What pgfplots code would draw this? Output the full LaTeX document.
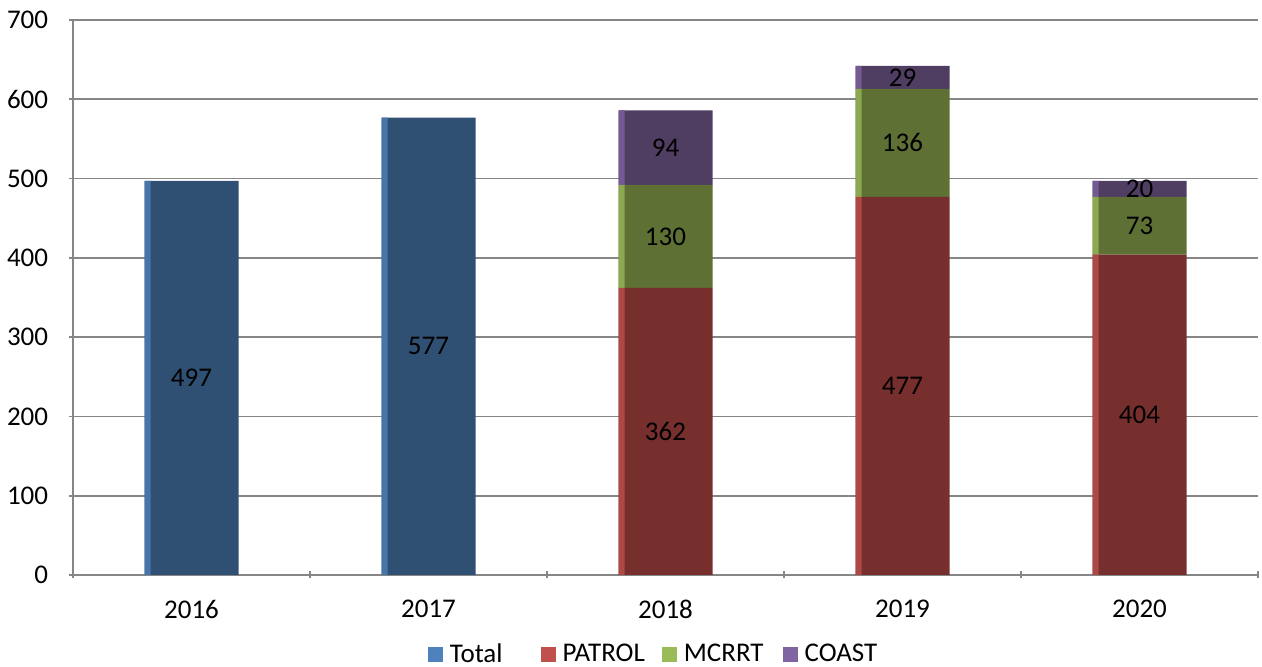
\documentclass[border=0pt]{standalone}
\usepackage{fontspec}
\setmainfont{Carlito}
\usepackage{pgfplots}
\pgfplotsset{compat=1.18}
\definecolor{cTotal}{HTML}{2F5072}
\definecolor{cPatrol}{HTML}{772F2E}
\definecolor{cMcrrt}{HTML}{5E7034}
\definecolor{cCoast}{HTML}{4F3D62}
\definecolor{lTotal}{HTML}{4F81BD}
\definecolor{lPatrol}{HTML}{C0504D}
\definecolor{lMcrrt}{HTML}{9BBB59}
\definecolor{lCoast}{HTML}{8064A2}
\definecolor{axgray}{HTML}{868686}
\pgfplotsset{
  basegeom/.style={
    at={(0,0)}, anchor=south west,
    scale only axis, width=592.5pt, height=277.5pt,
    ybar stacked,
    ymin=0, ymax=700,
    xmin=-0.5, xmax=4.5,
  }
}
\pgfplotstableread{
x total
0 497
1 577
}\tabTotal
\pgfplotstableread{
x patrol mcrrt coast
2 362 130 94
3 477 136 29
4 404 73 20
}\tabUnits
\newcommand\lfont{\fontsize{13.5}{15}\selectfont}
\begin{document}
\lfont
\begin{tikzpicture}
\path[use as bounding box] (-36.5pt,-46pt) rectangle (594.5pt,287.5pt);
\begin{axis}[
  basegeom, bar width=47pt,
  ytick distance=100,
  xtick={0,1,2,3,4}, xticklabels={2016,2017,2018,2019,2020},
  minor xtick={-0.5,0.5,1.5,2.5,3.5,4.5},
  major x tick style={draw=none},
  tick align=outside,
  major tick length=3.5pt, minor tick length=3.5pt,
  tick style={axgray, line width=0.8pt},
  axis x line=bottom, axis y line=left,
  axis line style={-, axgray, line width=0.8pt},
  ymajorgrids, grid style={axgray, line width=0.8pt},
  /pgf/number format/assume math mode=true,
  ticklabel style={font=\lfont, text=black},
  yticklabel style={xshift=-6pt},
  xticklabel style={yshift=-6pt},
  nodes near coords,
  every node near coord/.append style={anchor=center, text=black, font=\lfont},
  legend columns=4,
  legend style={at={(0.294,-0.144)}, anchor=west, draw=none,
     font=\lfont, cells={anchor=west},
     /tikz/every odd column/.append style={column sep=1.5pt},
     /tikz/every even column/.append style={column sep=6.5pt}},
]
\addplot[ybar, stack plots=false, fill=cTotal, draw=none,
  legend image code/.code={\fill[lTotal] (0pt,-3.75pt) rectangle (7.5pt,3.75pt);}]
  table[x=x, y=total] {\tabTotal};
\addplot[fill=cPatrol, draw=none,
  legend image code/.code={\fill[lPatrol] (0pt,-3.75pt) rectangle (7.5pt,3.75pt);}]
  table[x=x, y=patrol] {\tabUnits};
\addplot[fill=cMcrrt, draw=none,
  legend image code/.code={\fill[lMcrrt] (0pt,-3.75pt) rectangle (7.5pt,3.75pt);}]
  table[x=x, y=mcrrt] {\tabUnits};
\addplot[fill=cCoast, draw=none,
  legend image code/.code={\fill[lCoast] (0pt,-3.75pt) rectangle (7.5pt,3.75pt);}]
  table[x=x, y=coast] {\tabUnits};
\legend{Total\kern10.5pt,PATROL,MCRRT\kern1pt,COAST}
\end{axis}
% lighter left edges of the bars
\begin{axis}[basegeom, bar width=3pt, bar shift=-22pt, hide axis]
\addplot[ybar, stack plots=false, fill=lTotal!75!cTotal, draw=none] table[x=x, y=total] {\tabTotal};
\addplot[fill=lPatrol!75!cPatrol, draw=none] table[x=x, y=patrol] {\tabUnits};
\addplot[fill=lMcrrt!75!cMcrrt, draw=none] table[x=x, y=mcrrt] {\tabUnits};
\addplot[fill=lCoast!75!cCoast, draw=none] table[x=x, y=coast] {\tabUnits};
\end{axis}
\end{tikzpicture}
\end{document}
